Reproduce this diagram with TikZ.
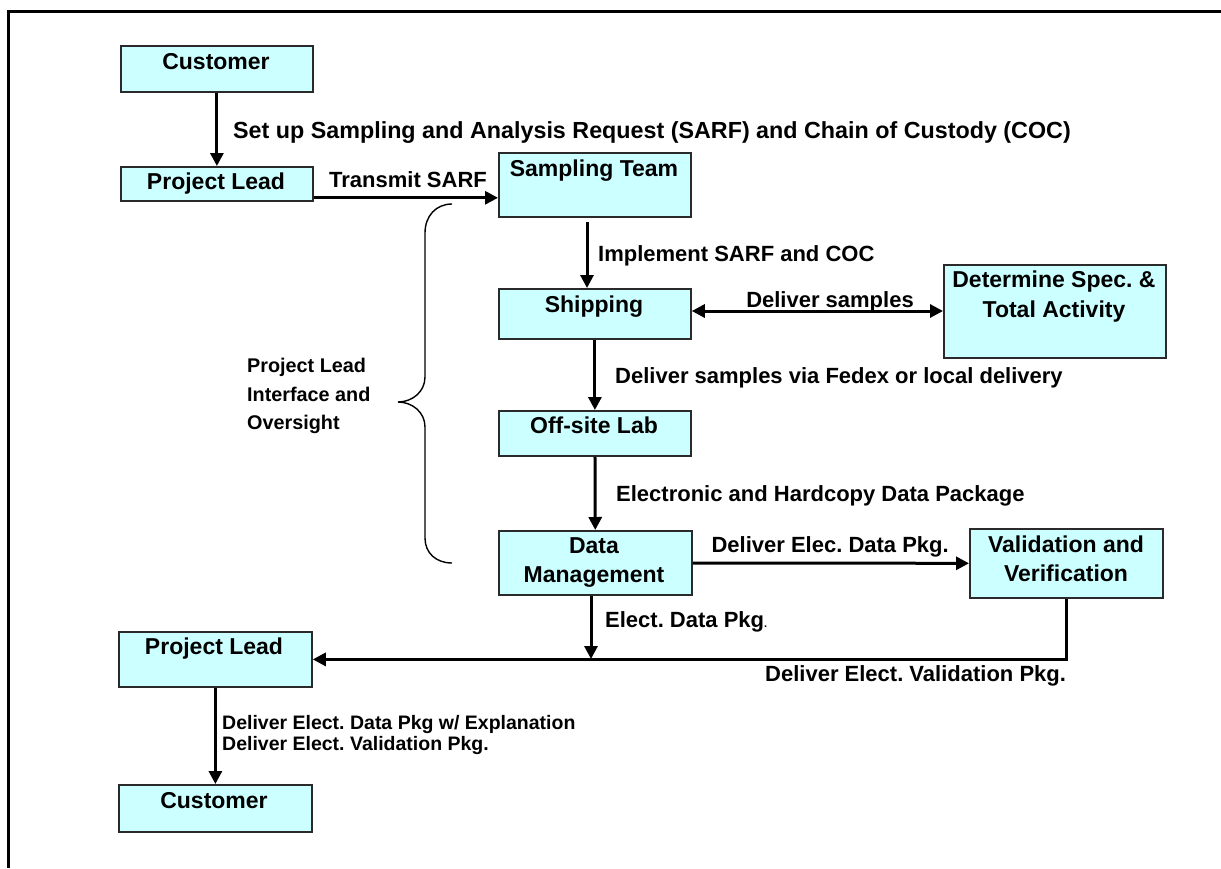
\documentclass[tikz,border=0pt]{standalone}
\usepackage{fontspec}
\setmainfont{Liberation Sans}
\usetikzlibrary{arrows.meta,calc}
\definecolor{boxfill}{HTML}{CCFFFF}
\definecolor{boxline}{HTML}{2A2A2A}
\frenchspacing
\begin{document}
\begin{tikzpicture}[x=1pt,y=-1pt,
  box/.style={draw=boxline, line width=1.8pt, fill=boxfill, inner sep=0pt, anchor=north west},
  btext/.style={font=\fontsize{23}{28}\selectfont\bfseries, inner sep=0pt, anchor=base},
  lbl/.style={font=\fontsize{22}{26}\selectfont\bfseries, inner sep=0pt},
  lblbig/.style={font=\fontsize{23.3}{28}\selectfont\bfseries, inner sep=0pt},
  lblsmall/.style={font=\fontsize{19.5}{22}\selectfont\bfseries, inner sep=0pt},
  lblside/.style={font=\fontsize{19.8}{24}\selectfont\bfseries, inner sep=0pt},
  arr/.style={line width=3pt, -{Triangle[length=13pt,width=13pt]}},
  darr/.style={line width=3pt, {Triangle[length=13pt,width=13pt]}-{Triangle[length=13pt,width=13pt]}}]
\useasboundingbox (0,0) rectangle (1221,868);
% frame (only top and left edges visible)
\draw[line width=3pt] (8,868) -- (8,11) -- (1221,11);

% boxes
\node[box, minimum width=192, minimum height=46] (c1) at (120,45) {};
\node[box, minimum width=192, minimum height=34] (p1) at (120,166) {};
\node[box, minimum width=192, minimum height=64] (st) at (498,152) {};
\node[box, minimum width=192, minimum height=50] (sh) at (498,288) {};
\node[box, minimum width=222, minimum height=93] (ds) at (943,264) {};
\node[box, minimum width=192, minimum height=45] (ol) at (498,410) {};
\node[box, minimum width=193, minimum height=64] (dm) at (498,530) {};
\node[box, minimum width=193, minimum height=69] (vv) at (969,528) {};
\node[box, minimum width=193, minimum height=55] (p2) at (118,631) {};
\node[box, minimum width=193, minimum height=47] (c2) at (118,784) {};

% box texts
\node[btext] (c1t) at (216,69) {Customer};
\node[btext] (p1t) at (216,189) {Project Lead};
\node[btext] (stt) at (594,176) {Sampling Team};
\node[btext] (sht) at (594,312) {Shipping};
\node[btext] (dst1) at (1054,287) {Determine Spec. \&};
\node[btext] (dst2) at (1054,317) {Total Activity};
\node[btext] (olt) at (594,433) {Off-site Lab};
\node[btext] (dmt1) at (594,553) {Data};
\node[btext] (dmt2) at (594,582) {Management};
\node[btext] (vvt1) at (1066,552) {Validation and};
\node[btext] (vvt2) at (1066,581) {Verification};
\node[btext] (p2t) at (214,654) {Project Lead};
\node[btext] (c2t) at (214,808) {Customer};

% connectors
\draw[arr] (c1) -- (p1);
\coordinate (t1) at ($(p1.south east)+(0,-4)$);
\draw[arr] (t1) -- (t1 -| st.west);
\coordinate (a2) at (587,222);
\draw[arr] (a2) -- (a2 |- sh.north);
\coordinate (a3) at ($(sh.north east)+(0,23)$);
\draw[darr] (a3) -- (a3 -| ds.west);
\draw[arr] (sh) -- (ol);
\draw[arr] (ol) -- (dm);
\draw[arr] (dm) -- (vv);
\coordinate (j) at (591,659);
\draw[arr] (dm.south -| j) -- (j);
\draw[arr] (vv.south) |- (p2.east);
\draw[arr] (p2) -- (c2);

% brace
\draw[line width=1.4pt] (452,204) .. controls (436,204) and (425,216) .. (425,233)
  -- (425,377) .. controls (425,392) and (412,402) .. (398,402)
  .. controls (412,402) and (425,412) .. (425,427)
  -- (425,538) .. controls (425,553) and (436,563) .. (452,563);

% labels
\node[lblbig, anchor=base west] (l1) at (233,138) {Set up Sampling and Analysis Request (SARF) and Chain of Custody (COC)};
\node[lbl, anchor=base west] (l2) at (329,187) {Transmit SARF};
\node[lbl, anchor=base west] (l3) at (598,261) {Implement SARF and COC};
\node[lbl, anchor=base east] (l4) at (914,307) {Deliver samples};
\node[lbl, anchor=base west] (l5) at (615,383) {Deliver samples via Fedex or local delivery};
\node[lbl, anchor=base west] (l6) at (616,501) {Electronic and Hardcopy Data Package};
\node[lbl, anchor=base east] (l7) at (949,552) {Deliver Elec. Data Pkg.};
\node[lbl, anchor=base west] (l8) at (605,627) {Elect. Data Pkg{\fontsize{11}{11}\selectfont.}};
\node[lbl, anchor=base west] (l9) at (765,681) {Deliver Elect. Validation Pkg.};
\node[lblsmall, anchor=base west] (l10) at (222,729) {Deliver Elect. Data Pkg w/ Explanation};
\node[lblsmall, anchor=base west] (l11) at (222,750) {Deliver Elect. Validation Pkg.};
\node[lblside, anchor=base west] (l12) at (247,372) {Project Lead};
\node[lblside, anchor=base west] (l13) at (247,401) {Interface and};
\node[lblside, anchor=base west] (l14) at (247,429) {Oversight};
\end{tikzpicture}
\end{document}
